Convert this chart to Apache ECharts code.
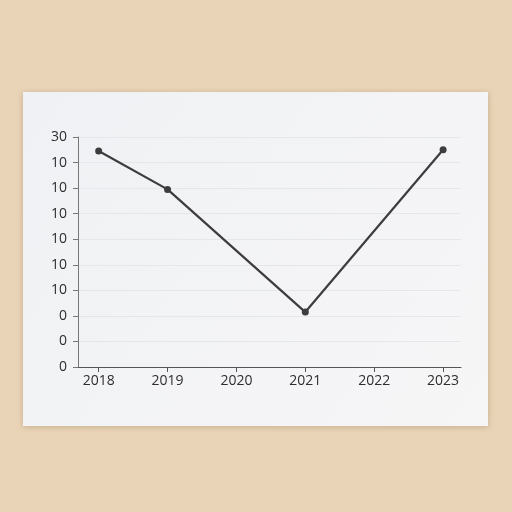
<!DOCTYPE html>
<html>
<head>
<meta charset="utf-8">
<script src="https://cdn.jsdelivr.net/npm/echarts@6/dist/echarts.min.js"></script>
<style>
  html, body { margin: 0; padding: 0; background: #ead4b7; }
  #main { width: 512px; height: 512px; }
</style>
</head>
<body>
<div id="main"></div>
<script>
// years on the x axis
var years = [2018, 2019, 2020, 2021, 2022, 2023]
// in tick steps (2020 and 2022 have no point)
var values = [8.45, 6.95, null, 2.15, null, 8.5]
// tick labels on the y axis, bottom to top, as printed
var yLabels = ['0', '0', '0', '10', '10', '10', '10', '10', '10', '30']

var myChart = echarts.init(document.getElementById('main'))

myChart.setOption({
  backgroundColor: 'transparent',
  animation: false,
  graphic: [{
    type: 'rect',
    z: -10,
    shape: { x: 23, y: 92, width: 465, height: 334 },
    style: {
      fill: new echarts.graphic.LinearGradient(0, 0, 1, 1, [
        { offset: 0, color: '#f0f1f4' },
        { offset: 1, color: '#f6f6f7' }
      ]),
      shadowBlur: 6,
      shadowColor: 'rgba(90,60,20,0.25)',
      shadowOffsetY: 1
    }
  }],
  grid: { left: 78, right: 51, top: 137, bottom: 145 },
  xAxis: {
    type: 'value',
    min: 2017.7,
    max: 2023.26,
    axisLine: { lineStyle: { color: '#555', width: 1.2 } },
    axisTick: { show: true, customValues: years, length: 5, lineStyle: { color: '#555' } },
    axisLabel: {
      customValues: years,
      color: '#2e2e30',
      fontSize: 14,
      fontFamily: 'Open Sans',
      margin: 7,
      formatter: function (v) { return String(v) }
    },
    splitLine: { show: false }
  },
  yAxis: {
    type: 'value',
    min: 0,
    max: 9,
    interval: 1,
    axisLine: { show: true, lineStyle: { color: '#777', width: 1 } },
    axisTick: { show: true, length: 5, lineStyle: { color: '#777' } },
    axisLabel: {
      color: '#2e2e30',
      fontSize: 14,
      fontFamily: 'Open Sans',
      margin: 11,
      formatter: function (v) { return yLabels[Math.round(v)] }
    },
    splitLine: { show: true, lineStyle: { color: '#e6e7ea', width: 1 } }
  },
  series: [{
    type: 'line',
    data: years.map(function (y, i) { return [y, values[i]] }),
    connectNulls: true,
    symbol: 'circle',
    symbolSize: 7,
    lineStyle: { color: '#3d3d40', width: 2.2 },
    itemStyle: { color: '#3d3d40' }
  }]
})
</script>
</body>
</html>
